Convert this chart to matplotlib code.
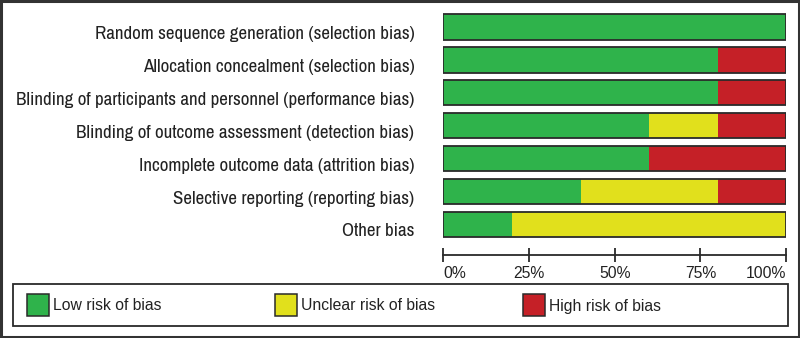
import matplotlib
matplotlib.use("Agg")
import matplotlib.pyplot as plt
from matplotlib.patches import Rectangle
from matplotlib.transforms import ScaledTranslation

# risk of bias domains, top to bottom
domains = [
    "Random sequence generation (selection bias)",
    "Allocation concealment (selection bias)",
    "Blinding of participants and personnel (performance bias)",
    "Blinding of outcome assessment (detection bias)",
    "Incomplete outcome data (attrition bias)",
    "Selective reporting (reporting bias)",
    "Other bias",
]
low_risk = [100, 80, 80, 60, 60, 40, 20]
unclear_risk = [0, 0, 0, 20, 0, 40, 80]
high_risk = [0, 20, 20, 20, 40, 20, 0]
tick_vals = [0, 25, 50, 75, 100]
tick_labels = ["0%", "25%", "50%", "75%", "100%"]
legend_labels = ["Low risk of bias", "Unclear risk of bias", "High risk of bias"]

GREEN = "#2fb34b"
YELLOW = "#e1e01c"
RED = "#c52027"
colors = [GREEN, YELLOW, RED]
narrow = ["Archivo Narrow", "Roboto Condensed", "DejaVu Sans"]

fig = plt.figure(figsize=(8, 3.38), dpi=100)
ax = fig.add_axes([443.5 / 800, 1 - 255 / 338, 342.5 / 800, 244.5 / 338])

ypos = list(range(len(domains)))
h = 0.77
left = [0] * len(domains)
for vals, c in zip([low_risk, unclear_risk, high_risk], colors):
    ax.barh(ypos, vals, left=left, height=h, color=c, edgecolor="none")
    left = [a + b for a, b in zip(left, vals)]
# outline of each bar
for y in ypos:
    ax.add_patch(Rectangle((0, y - h / 2), 100, h, fill=False,
                           edgecolor="#2a2a2a", linewidth=1.3, zorder=3))

ax.set_xlim(0, 100)
ax.set_ylim(6.927, -0.5)
for s in ["top", "left", "right"]:
    ax.spines[s].set_visible(False)
ax.spines["bottom"].set_linewidth(1.3)
ax.spines["bottom"].set_color("#2a2a2a")
ax.set_xticks(tick_vals)
ax.set_xticklabels(tick_labels, fontsize=11.3, family="Liberation Sans", color="#222222")
ax.get_xticklabels()[0].set_ha("left")
ax.get_xticklabels()[-1].set_ha("right")
ax.tick_params(axis="x", direction="inout", length=10, width=1.3, color="#2a2a2a", pad=3)
ax.set_yticks(ypos)
ax.set_yticklabels(domains, fontsize=13.7, family=narrow, color="#222222")
ax.tick_params(axis="y", length=0, pad=21)
# labels sit with their baseline on the bar's bottom edge
shift = ScaledTranslation(0, -12 / 100, fig.dpi_scale_trans)
for lab in ax.get_yticklabels():
    lab.set_va("baseline")
    lab.set_transform(lab.get_transform() + shift)

# legend box
fig.add_artist(Rectangle((13 / 800, 1 - 326 / 338), 775 / 800, 42 / 338,
                         transform=fig.transFigure, fill=False,
                         edgecolor="#2a2a2a", linewidth=1.3))
for x0, c, lab in zip([27, 275, 523], colors, legend_labels):
    fig.add_artist(Rectangle((x0 / 800, 1 - 315.5 / 338), 22 / 800, 21.5 / 338,
                             transform=fig.transFigure, facecolor=c,
                             edgecolor="#2a2a2a", linewidth=1.1))
    fig.text((x0 + 26) / 800, 1 - 306 / 338, lab, fontsize=11.3,
             family="Liberation Sans", color="#222222", va="center", ha="left")

# outer frame
fig.add_artist(Rectangle((0.0015, 0.003), 0.997, 0.994, transform=fig.transFigure,
                         fill=False, edgecolor="#333333", linewidth=2.2))

fig.savefig("out.png", dpi=100)
